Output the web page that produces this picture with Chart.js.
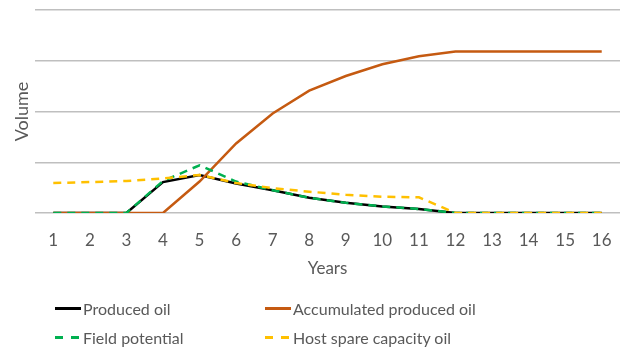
<!DOCTYPE html>
<html>
<head>
<meta charset="utf-8">
<script src="https://cdn.jsdelivr.net/npm/chart.js@4/dist/chart.umd.min.js"></script>
<style>
  body { margin: 0; background: #fff; }
  #wrap { position: relative; width: 622px; height: 354px; }
  .legend-item { position: absolute; display: flex; align-items: center; font: 16px Lato, sans-serif; color: #595959; }
  .swatch { width: 26px; height: 3px; margin-right: 2px; }
</style>
</head>
<body>
<div id="wrap">
  <canvas id="chart" width="622" height="354"></canvas>
  <div id="legend"></div>
</div>
<script>
// Years on the x axis
const years = ['1', '2', '3', '4', '5', '6', '7', '8', '9', '10', '11', '12', '13', '14', '15', '16'];

// Series values (gridline = 1 unit)
const producedOil = [0, 0, 0, 0.61, 0.75, 0.58, 0.45, 0.30, 0.20, 0.13, 0.08, 0, 0, 0, 0, 0];
const accumulatedOil = [0, 0, 0, 0, 0.62, 1.37, 1.96, 2.41, 2.70, 2.93, 3.09, 3.18, 3.18, 3.18, 3.18, 3.18];
const fieldPotential = [0, 0, 0, 0.63, 0.94, 0.62, 0.45, 0.30, 0.20, 0.13, 0.08, 0, 0, 0, 0, 0];
const hostSpare = [0.59, 0.61, 0.63, 0.68, 0.75, 0.59, 0.49, 0.42, 0.36, 0.32, 0.31, 0, 0, 0, 0, 0];

const FONT = 'Lato, sans-serif';
const GREY = '#595959';

const series = [
    { label: 'Produced oil', data: producedOil, color: '#000000', dash: [], order: 4 },
    { label: 'Accumulated produced oil', data: accumulatedOil, color: '#C55A11', dash: [], order: 3 },
    { label: 'Field potential', data: fieldPotential, color: '#00B050', dash: [8, 6], order: 2 },
    { label: 'Host spare capacity oil', data: hostSpare, color: '#FFC000', dash: [8, 6], order: 1 },
];

const datasets = series.map(s => ({
    label: s.label,
    data: s.data,
    borderColor: s.color,
    backgroundColor: s.color,
    borderWidth: 2.5,
    borderDash: s.dash,
    pointRadius: 0,
    tension: 0,
    fill: false,
    order: s.order,
}));

// HTML legend in two columns
const legendPos = [[55, 310], [265, 310], [55, 339], [265, 339]];
document.getElementById('legend').innerHTML = series.map((s, i) => {
    const bg = s.dash.length
        ? `repeating-linear-gradient(90deg, ${s.color} 0 8px, transparent 8px 16px)`
        : s.color;
    return `<div class="legend-item" style="left:${legendPos[i][0]}px;top:${legendPos[i][1] - 11}px">
        <div class="swatch" style="background:${bg}"></div>${s.label}</div>`;
}).join('');

new Chart(document.getElementById('chart'), {
    type: 'line',
    data: { labels: years, datasets },
    options: {
        responsive: false,
        animation: false,
        layout: { padding: { top: 10, right: 2, bottom: 69, left: 0 } },
        plugins: { legend: { display: false }, tooltip: { enabled: false } },
        scales: {
            x: {
                offset: true,
                grid: { display: false, drawTicks: false },
                border: { display: false },
                ticks: { color: GREY, font: { family: FONT, size: 17 }, padding: 17, maxRotation: 0, autoSkip: false },
                title: { display: true, text: 'Years', color: GREY, font: { family: FONT, size: 17 }, padding: { top: 4, bottom: 6 } },
                afterFit: s => { s.height = 72; s.paddingLeft = 0; s.paddingRight = 0; },
            },
            y: {
                min: 0,
                max: 4,
                ticks: { display: false, stepSize: 1 },
                grid: { color: '#bfbfbf', lineWidth: 1.5, drawTicks: false },
                border: { display: false },
                title: { display: true, text: 'Volume', color: GREY, font: { family: FONT, size: 18 }, padding: { top: 11, bottom: 0 } },
                afterFit: s => { s.width = 35; },
            },
        },
    },
});
</script>
</body>
</html>
